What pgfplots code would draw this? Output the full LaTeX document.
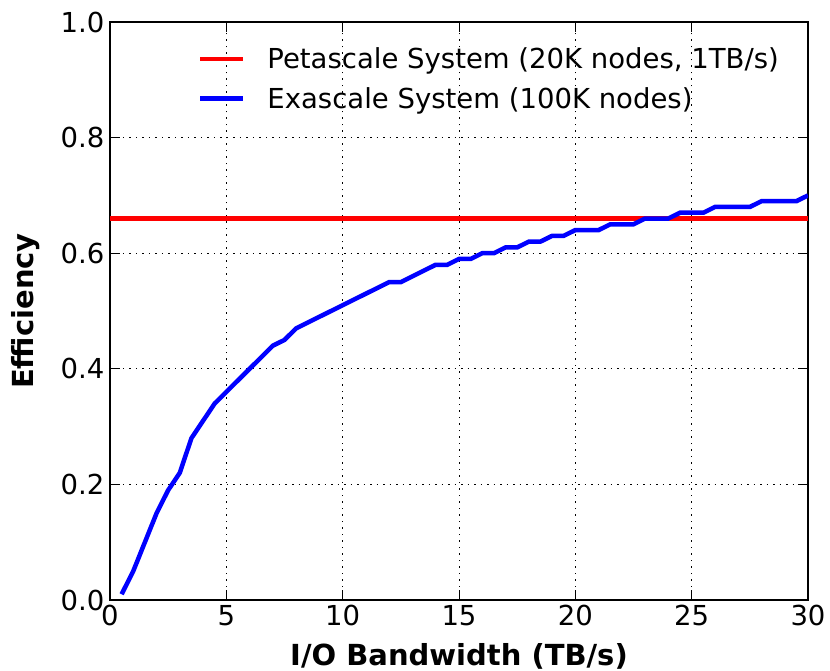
\documentclass[border=0pt]{standalone}
\usepackage{fontspec}
\setmainfont{DejaVu Sans}
\usepackage{pgfplots}
\pgfplotsset{compat=1.18}
\begin{document}
\begin{tikzpicture}
\begin{axis}[
  name=ax,
  scale only axis,
  width=698pt, height=578pt,
  xmin=0, xmax=30, ymin=0, ymax=1,
  xtick={0,5,10,15,20,25,30},
  ytick={0,0.2,0.4,0.6,0.8,1.0},
  yticklabel style={xshift=-2pt, /pgf/number format/fixed, /pgf/number format/fixed zerofill, /pgf/number format/precision=1},
  /pgf/number format/assume math mode=true,
  ticklabel style={font=\fontsize{27.5}{33}\selectfont},
  xticklabel style={yshift=-2pt},
  tick align=inside,
  xtick pos=both, ytick pos=both,
  major tick length=10pt,
  tick style={black, line width=1pt},
  axis line style={black, line width=1.4pt},
  grid=major,
  major grid style={black, line width=1pt, dash pattern=on 1.5pt off 5pt},
  xlabel={\textbf{I/O Bandwidth (TB/s)}},
  ylabel={\textbf{Efficiency}},
  label style={font=\fontsize{29}{34}\selectfont},
  xlabel style={at={(axis description cs:0.5,-0.113)}, anchor=base},
  ylabel style={at={(axis description cs:-0.109,0.5)}, anchor=base, rotate=0},
  legend style={draw=none, fill=none, at={(axis description cs:0.1214,0.9625)}, anchor=north west,
    font=\fontsize{27.5}{33}\selectfont, row sep=13pt,
    nodes={inner xsep=14pt}},
  legend cell align=left,
  legend image code/.code={\draw[#1] (0pt,0pt) -- (43pt,0pt);},
]
\addplot[red, line width=4.5pt] coordinates {(0,0.66) (30,0.66)};
\addlegendentry{\hspace{8pt}Petascale System (20K nodes, 1TB/s)}
\addplot[blue, line width=4.5pt] coordinates {
(0.5,0.01) (1,0.05) (1.5,0.10) (2,0.15) (2.5,0.19) (3,0.22) (3.5,0.28) (4,0.31)
(4.5,0.34) (5,0.36) (5.5,0.38) (6,0.40) (6.5,0.42) (7,0.44) (7.5,0.45) (8,0.47)
(8.5,0.48) (9,0.49) (9.5,0.50) (10,0.51) (10.5,0.52) (11,0.53) (11.5,0.54) (12,0.55)
(12.5,0.55) (13,0.56) (13.5,0.57) (14,0.58) (14.5,0.58) (15,0.59) (15.5,0.59) (16,0.60)
(16.5,0.60) (17,0.61) (17.5,0.61) (18,0.62) (18.5,0.62) (19,0.63) (19.5,0.63) (20,0.64)
(20.5,0.64) (21,0.64) (21.5,0.65) (22,0.65) (22.5,0.65) (23,0.66) (23.5,0.66) (24,0.66)
(24.5,0.67) (25,0.67) (25.5,0.67) (26,0.68) (26.5,0.68) (27,0.68) (27.5,0.68) (28,0.69)
(28.5,0.69) (29,0.69) (29.5,0.69) (30,0.70)};
\addlegendentry{\hspace{8pt}Exascale System (100K nodes)}
\end{axis}
\pgfresetboundingbox
\useasboundingbox ([xshift=-110pt,yshift=-70pt]ax.south west) rectangle ([xshift=22pt,yshift=22pt]ax.north east);
\end{tikzpicture}
\end{document}
